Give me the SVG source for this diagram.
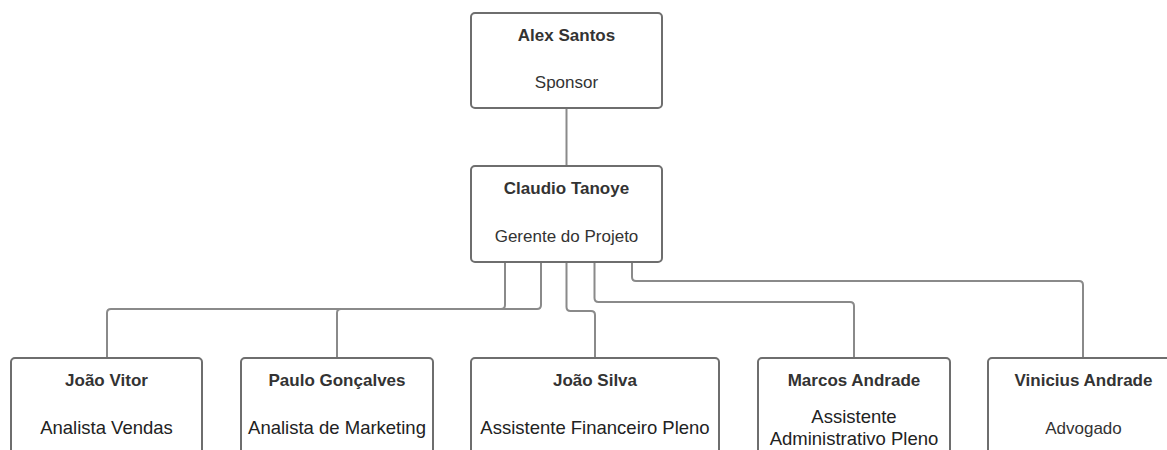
<svg xmlns="http://www.w3.org/2000/svg" width="1167" height="450" viewBox="0 0 1167 450">
<style>
.box{fill:#fff;stroke:#6e6e6e;stroke-width:2}
.name{font-family:"Liberation Sans",Arial,sans-serif;font-weight:bold;font-size:17px;fill:#333;text-anchor:middle}
.role{font-family:"Liberation Sans",Arial,sans-serif;font-size:17px;fill:#333;text-anchor:middle}
.role2{font-family:"Liberation Sans",Arial,sans-serif;font-size:18.5px;fill:#222;text-anchor:middle}
.conn{fill:none;stroke:#8a8a8a;stroke-width:2}
</style>
<rect width="1167" height="450" fill="#fff"/>
<g id="connectors">
<path class="conn" d="M566.5,108 V166"/>
<path class="conn" d="M505,262 V305 Q505,309 501,309 H111 Q107,309 107,313 V358"/>
<path class="conn" d="M541,262 V305 Q541,309 537,309 H341 Q337,309 337,313 V358"/>
<path class="conn" d="M566.5,262 V307 Q566.5,311 570.5,311 H591 Q595,311 595,315 V358"/>
<path class="conn" d="M594.5,262 V298 Q594.5,302 598.5,302 H850 Q854,302 854,306 V358"/>
<path class="conn" d="M632,262 V277 Q632,281 636,281 H1079 Q1083,281 1083,285 V358"/>
</g>
<g id="alex">
<rect class="box" x="471" y="13" width="191" height="95" rx="4"/>
<text class="name" x="566.5" y="41">Alex Santos</text>
<text class="role" x="566.5" y="88">Sponsor</text>
</g>
<g id="claudio">
<rect class="box" x="471" y="166" width="191" height="96" rx="4"/>
<text class="name" x="566.5" y="194">Claudio Tanoye</text>
<text class="role" x="566.5" y="242">Gerente do Projeto</text>
</g>
<g id="joao-vitor">
<rect class="box" x="11" y="358" width="191" height="120" rx="4"/>
<text class="name" x="106.5" y="386">João Vitor</text>
<text class="role2" x="106.5" y="434">Analista Vendas</text>
</g>
<g id="paulo">
<rect class="box" x="241" y="358" width="192" height="120" rx="4"/>
<text class="name" x="337" y="386">Paulo Gonçalves</text>
<text class="role2" x="337" y="434">Analista de Marketing</text>
</g>
<g id="joao-silva">
<rect class="box" x="471" y="358" width="248" height="120" rx="4"/>
<text class="name" x="595" y="386">João Silva</text>
<text class="role2" x="595" y="434">Assistente Financeiro Pleno</text>
</g>
<g id="marcos">
<rect class="box" x="758" y="358" width="192" height="120" rx="4"/>
<text class="name" x="854" y="386">Marcos Andrade</text>
<text class="role2" x="854" y="423">Assistente</text>
<text class="role2" x="854" y="445">Administrativo Pleno</text>
</g>
<g id="vinicius">
<rect class="box" x="988" y="358" width="191" height="120" rx="4"/>
<text class="name" x="1083.5" y="386">Vinicius Andrade</text>
<text class="role" x="1083.5" y="434">Advogado</text>
</g>
</svg>
